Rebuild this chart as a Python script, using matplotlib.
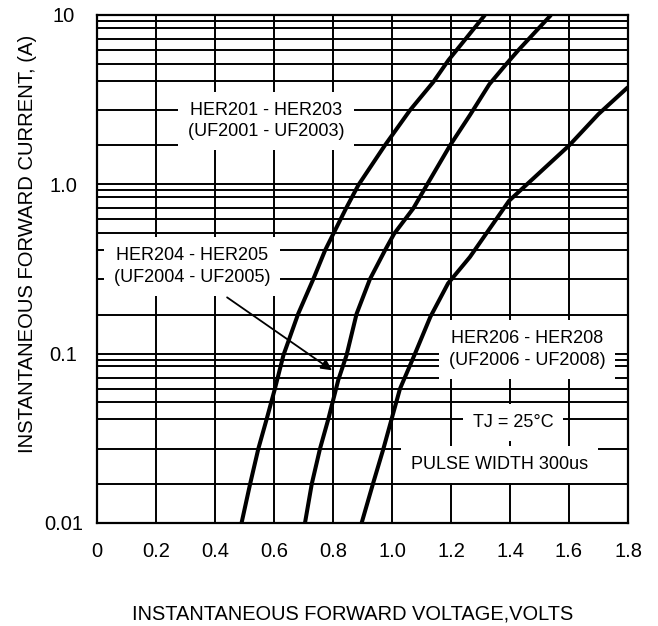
import numpy as np
import matplotlib.pyplot as plt
from matplotlib.ticker import FixedLocator, NullFormatter

plt.rcParams['font.family'] = ['Liberation Sans', 'DejaVu Sans']

# forward voltage (V) vs forward current (A)
v_her201 = [0.49, 0.519, 0.547, 0.575, 0.603, 0.632, 0.682, 0.733, 0.773, 0.801,
            0.844, 0.886, 0.976, 1.061, 1.14, 1.191, 1.315]
i_her201 = [0.01, 0.017, 0.0275, 0.041, 0.062, 0.098, 0.172, 0.275, 0.407, 0.51,
            0.72, 0.99, 1.7, 2.74, 4.02, 5.4, 10]

v_her204 = [0.705, 0.728, 0.756, 0.784, 0.818, 0.846, 0.880, 0.925, 0.976, 1.007,
            1.072, 1.118, 1.197, 1.264, 1.33, 1.389, 1.428, 1.539]
i_her204 = [0.01, 0.017, 0.0275, 0.041, 0.07, 0.098, 0.172, 0.275, 0.407, 0.51,
            0.72, 0.99, 1.7, 2.56, 3.9, 5.17, 6.19, 10]

v_her206 = [0.897, 0.937, 0.971, 0.999, 1.027, 1.078, 1.13, 1.19, 1.264, 1.397,
            1.601, 1.70, 1.80]
i_her206 = [0.01, 0.0174, 0.0275, 0.0413, 0.062, 0.1, 0.165, 0.26, 0.372, 0.80,
            1.70, 2.6, 3.75]

x_ticks = [0, 0.2, 0.4, 0.6, 0.8, 1.0, 1.2, 1.4, 1.6, 1.8]
x_ticklabels = ["0", "0.2", "0.4", "0.6", "0.8", "1.0", "1.2", "1.4", "1.6", "1.8"]
y_ticks = [0.01, 0.1, 1, 10]
y_ticklabels = ["0.01", "0.1", "1.0", "10"]
# horizontal grid lines inside each decade, as drawn on the sheet
grid_mult = [1.7, 2.75, 4.1, 5.15, 6.2, 7.2, 8.4, 9.2]

fig = plt.figure(figsize=(6.58, 6.26), dpi=100)
ax = fig.add_axes([97/658, 1-523/626, 531/658, 508/626])

for v, i in [(v_her201, i_her201), (v_her204, i_her204), (v_her206, i_her206)]:
    ax.plot(v, i, color="black", lw=2.9, zorder=4,
            solid_capstyle="butt", solid_joinstyle="round")

ax.set_yscale("log")
ax.set_xlim(0, 1.8)
ax.set_ylim(0.01, 10)
ax.set_xticks(x_ticks)
ax.set_xticklabels(x_ticklabels)
ax.set_yticks(y_ticks)
ax.set_yticklabels(y_ticklabels)
minor = [m * d for d in [0.01, 0.1, 1] for m in grid_mult]
ax.yaxis.set_minor_locator(FixedLocator(minor))
ax.yaxis.set_minor_formatter(NullFormatter())
ax.tick_params(axis="both", which="both", length=0)
ax.tick_params(axis="x", labelsize=14.5, pad=14)
ax.tick_params(axis="y", labelsize=14.5, pad=24)
for lab in ax.get_yticklabels():
    lab.set_horizontalalignment("center")

ax.set_axisbelow(True)
ax.grid(True, axis="x", which="major", color="black", lw=1.4)
ax.grid(True, axis="y", which="both", color="black", lw=1.4)
for s in ax.spines.values():
    s.set_linewidth(1.6)

box = dict(boxstyle="square,pad=0.55", facecolor="white", edgecolor="none")
ax.text(0.573, 2.36, "HER201 - HER203\n(UF2001 - UF2003)", ha="center", va="center",
        fontsize=13, linespacing=1.35, bbox=box, zorder=3)
ax.text(0.322, 0.328, "HER204 - HER205\n(UF2004 - UF2005)", ha="center", va="center",
        fontsize=13, linespacing=1.35, bbox=box, zorder=3)
ax.text(1.458, 0.106, "HER206 - HER208\n(UF2006 - UF2008)", ha="center", va="center",
        fontsize=13, linespacing=1.35, bbox=box, zorder=3)
ax.text(1.41, 0.0393, "TJ = 25°C", ha="center", va="center",
        fontsize=13, bbox=box, zorder=3)
ax.text(1.366, 0.0222, "PULSE WIDTH 300us", ha="center", va="center",
        fontsize=13, bbox=box, zorder=3)

ax.annotate("", xy=(0.797, 0.0797), xytext=(0.441, 0.215),
            arrowprops=dict(arrowstyle="-|>", color="black", lw=1.3,
                            mutation_scale=16, shrinkA=0, shrinkB=0), zorder=5)

fig.text(28/658, 1-244/626, "INSTANTANEOUS FORWARD CURRENT, (A)", rotation=90,
         ha="center", va="center", fontsize=14.6)
fig.text(353/658, 1-614/626, "INSTANTANEOUS FORWARD VOLTAGE,VOLTS",
         ha="center", va="center", fontsize=14.4)

fig.savefig("out.png", dpi=100)
